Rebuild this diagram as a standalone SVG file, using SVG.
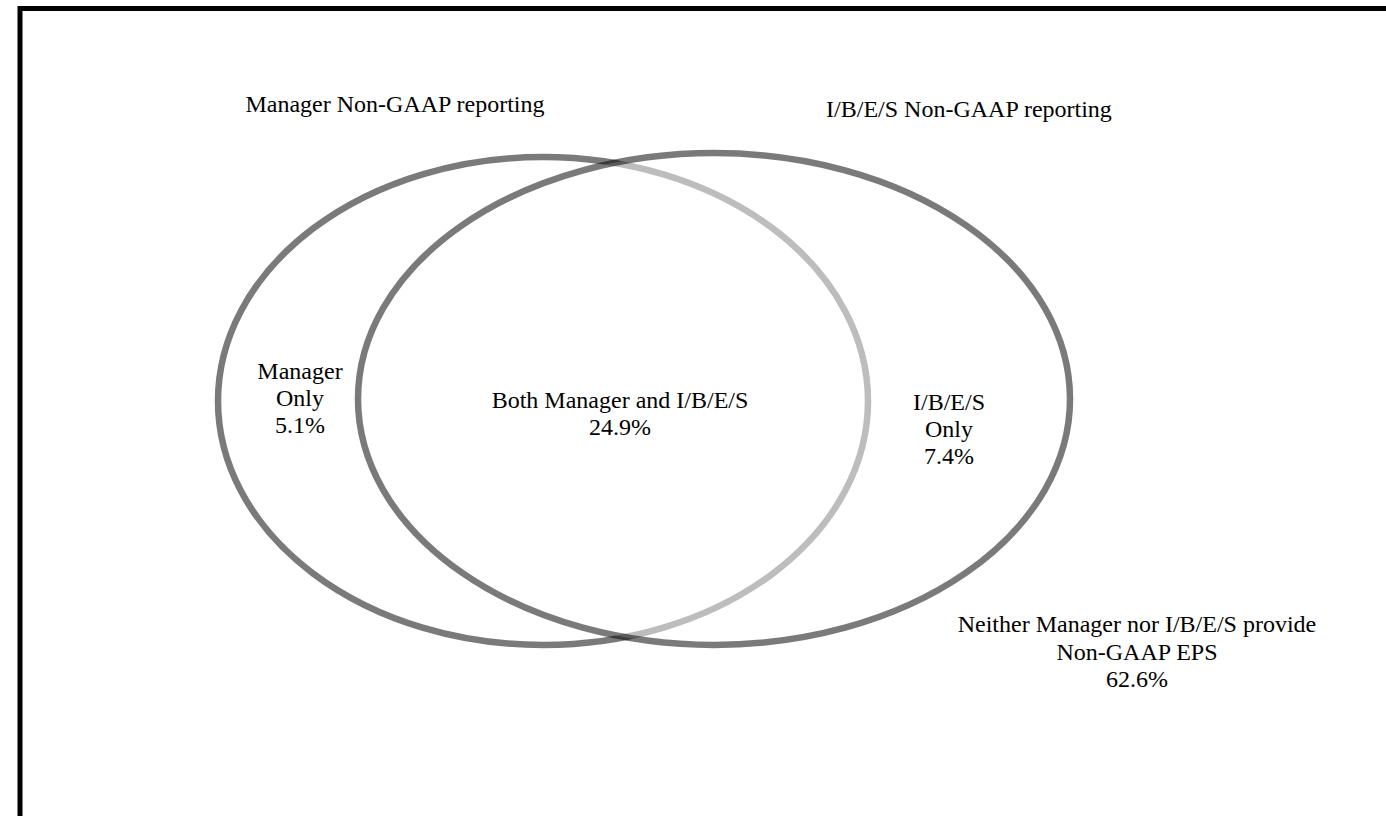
<svg xmlns="http://www.w3.org/2000/svg" width="1386" height="816" viewBox="0 0 1386 816">
  <style>
    .lbl { font-family: "Liberation Serif", "Times New Roman", serif; font-size: 24px; fill: #000; text-anchor: middle; }
    .ring { fill: none; stroke-width: 6.5; }
  </style>
  <defs>
    <ellipse id="mgr" cx="543" cy="401" rx="325" ry="244"/>
    <ellipse id="ibes" cx="714" cy="399" rx="356" ry="246"/>
    <clipPath id="insideIbes"><use href="#ibes"/></clipPath>
    <mask id="outsideIbes">
      <rect x="0" y="0" width="1386" height="816" fill="#fff"/>
      <use href="#ibes" fill="#000"/>
    </mask>
  </defs>
  <rect width="1386" height="816" fill="#fff"/>
  <!-- page frame -->
  <rect x="20" y="8.5" width="1420" height="900" fill="none" stroke="#000" stroke-width="5"/>

  <g id="connectors">
    <!-- Manager circle: light inside the I/B/E/S circle, dark outside -->
    <use href="#mgr" class="ring" stroke="#bdbdbd" clip-path="url(#insideIbes)"/>
    <use href="#mgr" class="ring" stroke="#7a7a7a" mask="url(#outsideIbes)"/>
    <!-- I/B/E/S circle -->
    <use href="#ibes" class="ring" stroke="#000" stroke-opacity="0.52"/>
  </g>

  <g id="title-manager">
    <text class="lbl" x="395" y="112">Manager Non-GAAP reporting</text>
  </g>
  <g id="title-ibes">
    <text class="lbl" x="969" y="117">I/B/E/S Non-GAAP reporting</text>
  </g>
  <g id="manager-only">
    <text class="lbl" x="300" y="379">Manager</text>
    <text class="lbl" x="300" y="406">Only</text>
    <text class="lbl" x="300" y="433">5.1%</text>
  </g>
  <g id="both">
    <text class="lbl" x="620" y="408">Both Manager and I/B/E/S</text>
    <text class="lbl" x="620" y="435">24.9%</text>
  </g>
  <g id="ibes-only">
    <text class="lbl" x="949" y="410">I/B/E/S</text>
    <text class="lbl" x="949" y="437">Only</text>
    <text class="lbl" x="949" y="464">7.4%</text>
  </g>
  <g id="neither">
    <text class="lbl" x="1137" y="632">Neither Manager nor I/B/E/S provide</text>
    <text class="lbl" x="1137" y="660">Non-GAAP EPS</text>
    <text class="lbl" x="1137" y="687">62.6%</text>
  </g>
</svg>
